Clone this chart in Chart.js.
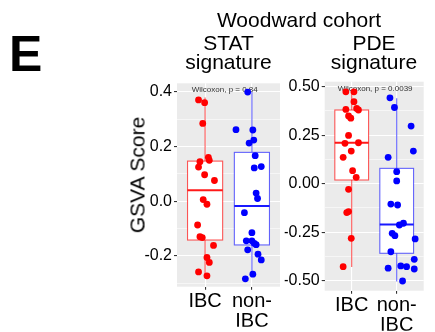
<!DOCTYPE html>
<html><head><meta charset="utf-8">
<script src="https://cdn.jsdelivr.net/npm/chart.js@4/dist/chart.umd.min.js"></script>
<style>
html,body{margin:0;padding:0;background:#fff;}
#wrap{position:relative;width:435px;height:332px;overflow:hidden;font-family:"Liberation Sans",Arial,sans-serif;}
canvas{position:absolute;left:0;top:0;}
.t{position:absolute;white-space:nowrap;color:#000;line-height:1;}
.c{transform:translateX(-50%);}
</style></head><body>
<div id="wrap">
<canvas id="c1" width="435" height="332"></canvas>
<canvas id="c2" width="435" height="332"></canvas>
<div class="t" style="left:9px;top:29px;font-size:50px;font-weight:bold;">E</div>
<div class="t c" style="left:299px;top:9px;font-size:21px;">Woodward cohort</div>
<div class="t c" style="left:228.5px;top:32px;font-size:21px;">STAT</div>
<div class="t c" style="left:228.5px;top:50.5px;font-size:21px;">signature</div>
<div class="t c" style="left:374px;top:32px;font-size:21px;">PDE</div>
<div class="t c" style="left:374px;top:50.5px;font-size:21px;">signature</div>
<div class="t" style="left:137px;top:175px;font-size:21px;transform:translate(-50%,-50%) rotate(-90deg);">GSVA Score</div>
</div>
<script>
// ---- data ----
const categories = ["IBC", ["non-", "IBC"]];

// STAT signature panel
const statIbcValues = [0.371,0.361,0.285,0.161,0.145,0.150,0.125,0.097,0.076,0.006,-0.011,-0.087,-0.130,-0.133,-0.162,-0.206,-0.224,-0.259,-0.273];
const statIbcJitter = [-0.14,-0.01,-0.05,0.07,-0.11,0.09,-0.14,-0.01,0.20,-0.04,0.04,-0.16,-0.11,-0.06,0.18,0.04,0.09,-0.14,0.04];
const statNonValues = [0.400,0.262,0.261,0.224,0.213,0.167,0.122,0.127,0.030,0.010,-0.042,-0.115,-0.145,-0.145,-0.154,-0.159,-0.178,-0.194,-0.215,-0.267,-0.284];
const statNonJitter = [-0.09,-0.34,0.02,0.04,-0.06,0.07,0.05,0.20,0.09,0.12,-0.16,0.00,-0.12,0.00,0.05,0.09,-0.09,0.13,0.20,0.02,-0.14];
const statIbcBox = [-0.275,-0.142,0.040,0.147,0.380];   // min, q1, median, q3, max
const statNonBox = [-0.270,-0.160,-0.017,0.179,0.400];
const statTicks = [-0.2,0.0,0.2,0.4];
const statTickLabels = ["-0.2","0.0","0.2","0.4"];
const statRange = [-0.313,0.432];
const statLabel = "Wilcoxon, p = 0.84";

// PDE signature panel
const pdeIbcValues = [0.474,0.474,0.423,0.383,0.388,0.380,0.349,0.338,0.249,0.208,0.211,0.168,0.136,0.067,0.033,-0.029,-0.144,-0.149,-0.282,-0.428];
const pdeIbcJitter = [-0.13,0.05,0.05,-0.13,0.11,0.15,-0.07,-0.02,-0.07,-0.15,0.15,-0.01,-0.19,0.02,0.10,-0.07,-0.07,-0.11,-0.01,-0.19];
const pdeNonValues = [0.443,0.393,0.297,0.168,0.136,0.062,0.014,-0.105,-0.110,-0.204,-0.213,-0.256,-0.268,-0.285,-0.351,-0.390,-0.424,-0.436,-0.428,-0.440,-0.502];
const pdeNonJitter = [-0.15,-0.05,0.32,0.37,-0.19,0.00,0.00,-0.13,0.02,0.15,0.06,-0.10,-0.04,0.41,-0.13,0.39,0.09,-0.19,0.22,0.39,0.13];
const pdeIbcBox = [-0.430,0.019,0.211,0.380,0.480];
const pdeNonBox = [-0.505,-0.359,-0.210,0.079,0.440];
const pdeTicks = [-0.5,-0.25,0.0,0.25,0.5];
const pdeTickLabels = ["-0.50","-0.25","0.00","0.25","0.50"];
const pdeRange = [-0.552,0.526];
const pdeLabel = "Wilcoxon, p = 0.0039";

// ---- drawing ----
const RED = '#FF0000', BLUE = '#0000FF';
const FONT = "'Liberation Sans', Arial, sans-serif";

const bgPlugin = {
  id: 'panelBg',
  beforeDraw(chart) {
    const a = chart.chartArea, ctx = chart.ctx;
    ctx.save(); ctx.fillStyle = '#EBEBEB';
    ctx.fillRect(a.left, a.top, a.right - a.left, a.bottom - a.top);
    ctx.restore();
  }
};

const boxPlugin = {
  id: 'boxes',
  beforeDatasetsDraw(chart, args, opts) {
    const ctx = chart.ctx, xs = chart.scales.x, ys = chart.scales.y;
    ctx.save();
    ctx.beginPath();
    const a = chart.chartArea;
    ctx.rect(a.left, a.top, a.right - a.left, a.bottom - a.top); ctx.clip();
    opts.items.forEach(b => {
      const cx = xs.getPixelForValue(b.pos);
      const half = xs.getPixelForValue(b.pos + opts.width / 2) - cx;
      const [mn, q1, md, q3, mx] = b.stats.map(v => ys.getPixelForValue(v));
      ctx.strokeStyle = b.line; ctx.lineWidth = 1.1;
      ctx.beginPath();
      ctx.moveTo(cx, mx); ctx.lineTo(cx, q3);
      ctx.moveTo(cx, q1); ctx.lineTo(cx, mn);
      ctx.stroke();
      ctx.fillStyle = '#FFFFFF';
      ctx.fillRect(cx - half, q3, 2 * half, q1 - q3);
      ctx.strokeRect(cx - half, q3, 2 * half, q1 - q3);
      ctx.strokeStyle = b.median; ctx.lineWidth = 2;
      ctx.beginPath(); ctx.moveTo(cx - half, md); ctx.lineTo(cx + half, md); ctx.stroke();
    });
    // p-value label
    ctx.fillStyle = '#333';
    ctx.font = '8px ' + FONT;
    ctx.textAlign = 'center'; ctx.textBaseline = 'middle';
    ctx.fillText(opts.label, xs.getPixelForValue(opts.labelX), ys.getPixelForValue(opts.labelY));
    ctx.restore();
  }
};

function pts(values, jitter, pos) {
  return values.map((v, i) => ({ x: pos + jitter[i], y: v }));
}

function makeChart(id, cfg) {
  const majors = cfg.ticks;
  const all = [];
  for (let i = 0; i < majors.length; i++) {
    all.push({ v: majors[i], major: true, label: cfg.tickLabels[i] });
    if (i < majors.length - 1) all.push({ v: (majors[i] + majors[i + 1]) / 2, major: false, label: '' });
  }
  const step = majors[1] - majors[0];
  if (majors[0] - step / 2 > cfg.range[0]) all.unshift({ v: majors[0] - step / 2, major: false, label: '' });
  if (majors[majors.length - 1] + step / 2 < cfg.range[1]) all.push({ v: majors[majors.length - 1] + step / 2, major: false, label: '' });
  all.sort((a, b) => a.v - b.v);

  return new Chart(document.getElementById(id), {
    type: 'scatter',
    data: {
      datasets: [
        { data: pts(cfg.ibcValues, cfg.ibcJitter, 1), backgroundColor: RED, borderWidth: 0, pointRadius: 3.4, pointHoverRadius: 3.4 },
        { data: pts(cfg.nonValues, cfg.nonJitter, 2), backgroundColor: BLUE, borderWidth: 0, pointRadius: 3.4, pointHoverRadius: 3.4 }
      ]
    },
    options: {
      responsive: false, animation: false, devicePixelRatio: 1,
      events: [],
      layout: { padding: cfg.padding },
      plugins: {
        legend: { display: false }, tooltip: { enabled: false }, title: { display: false },
        boxes: {
          width: 0.75, label: cfg.label, labelX: cfg.labelX, labelY: cfg.labelY,
          items: [
            { pos: 1, stats: cfg.ibcBox, line: 'rgba(255,0,0,0.65)', median: 'rgba(255,0,0,0.9)' },
            { pos: 2, stats: cfg.nonBox, line: 'rgba(0,0,255,0.6)', median: 'rgba(0,0,255,0.9)' }
          ]
        }
      },
      scales: {
        x: {
          type: 'linear', min: 0.4, max: 2.6,
          afterBuildTicks: s => { s.ticks = [{ value: 1 }, { value: 2 }]; },
          afterFit: s => { s.height = 40; },
          border: { display: false },
          grid: { color: '#FFFFFF', lineWidth: 1.1, tickLength: 3, tickColor: '#333' },
          ticks: {
            autoSkip: false, maxRotation: 0, minRotation: 0, padding: 2,
            color: '#000', font: { family: FONT, size: 20, lineHeight: 1 },
            callback: (v, i) => categories[i]
          }
        },
        y: {
          type: 'linear', min: cfg.range[0], max: cfg.range[1],
          afterBuildTicks: s => { s.ticks = all.map(t => ({ value: t.v })); },
          afterFit: s => { s.width = 40; },
          border: { display: false },
          grid: {
            color: '#FFFFFF',
            lineWidth: c => (all[c.index] && all[c.index].major) ? 1.1 : 0.55,
            tickLength: 3,
            tickColor: c => (all[c.index] && all[c.index].major) ? '#333' : 'rgba(0,0,0,0)'
          },
          ticks: {
            autoSkip: false, padding: 2, color: '#000',
            font: { family: FONT, size: 16 },
            callback: (v, i) => all[i] ? all[i].label : ''
          }
        }
      }
    },
    plugins: [bgPlugin, boxPlugin]
  });
}

makeChart('c1', {
  ibcValues: statIbcValues, ibcJitter: statIbcJitter, nonValues: statNonValues, nonJitter: statNonJitter,
  ibcBox: statIbcBox, nonBox: statNonBox, ticks: statTicks, tickLabels: statTickLabels, range: statRange,
  label: statLabel, labelX: 1.42, labelY: 0.41,
  padding: { left: 137, right: 155, top: 83.3, bottom: 5.3 }
});
makeChart('c2', {
  ibcValues: pdeIbcValues, ibcJitter: pdeIbcJitter, nonValues: pdeNonValues, nonJitter: pdeNonJitter,
  ibcBox: pdeIbcBox, nonBox: pdeNonBox, ticks: pdeTicks, tickLabels: pdeTickLabels, range: pdeRange,
  label: pdeLabel, labelX: 1.52, labelY: 0.488,
  padding: { left: 284.7, right: 11.3, top: 81.7, bottom: 1.3 }
});
</script>
</body></html>
